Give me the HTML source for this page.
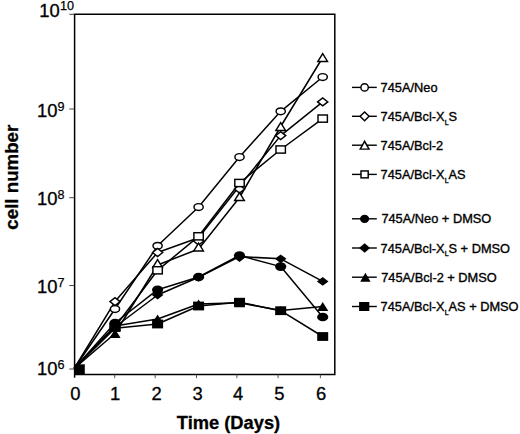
<!DOCTYPE html>
<html><head><meta charset="utf-8"><title>cell number vs time</title>
<style>
html,body{margin:0;padding:0;background:#fff;}
body{width:520px;height:434px;overflow:hidden;}
svg{display:block;}
text{font-family:"Liberation Sans",sans-serif;fill:#000;}
.t{font-size:18.4px;stroke:#000;stroke-width:0.3px;}
.s{font-size:12.6px;stroke:#000;stroke-width:0.25px;}
.b{font-size:18.3px;font-weight:bold;stroke:#000;stroke-width:0.3px;}
.l{font-size:12.8px;stroke:#000;stroke-width:0.35px;}
.sub{font-size:7px;stroke-width:0.35px;}
</style></head><body>
<svg width="520" height="434" viewBox="0 0 520 434">
<rect x="0" y="0" width="520" height="434" fill="#fff"/>

<path d="M74.6 13.5 V377.8 M74.6 14.3 H334.8 V374.6 H73.9" fill="none" stroke="#000" stroke-width="1.5"/>
<line x1="114.7" y1="374.6" x2="114.7" y2="378.2" stroke="#444" stroke-width="0.9"/>
<line x1="155.2" y1="374.6" x2="155.2" y2="378.2" stroke="#444" stroke-width="0.9"/>
<line x1="196.5" y1="374.6" x2="196.5" y2="378.2" stroke="#444" stroke-width="0.9"/>
<line x1="236.9" y1="374.6" x2="236.9" y2="378.2" stroke="#444" stroke-width="0.9"/>
<line x1="278.1" y1="374.6" x2="278.1" y2="378.2" stroke="#444" stroke-width="0.9"/>
<line x1="320.4" y1="374.6" x2="320.4" y2="378.2" stroke="#444" stroke-width="0.9"/>
<line x1="69.3" y1="14.3" x2="74" y2="14.3" stroke="#444" stroke-width="1"/>
<line x1="69.3" y1="109.0" x2="74" y2="109.0" stroke="#444" stroke-width="1"/>
<line x1="69.3" y1="197.7" x2="74" y2="197.7" stroke="#444" stroke-width="1"/>
<line x1="69.3" y1="285.5" x2="74" y2="285.5" stroke="#444" stroke-width="1"/>
<line x1="69.3" y1="369.0" x2="74" y2="369.0" stroke="#444" stroke-width="1"/>
<polyline points="74.2,368.5 115.0,309 157.6,245.8 198.6,207 239.5,157 280.7,111.3 322.7,77" fill="none" stroke="#000" stroke-width="1.5" stroke-linejoin="round"/>
<polyline points="74.2,368.5 115.0,301.6 157.6,252.5 198.6,237.8 239.5,186.0 280.7,135.6 322.7,101.9" fill="none" stroke="#000" stroke-width="1.5" stroke-linejoin="round"/>
<polyline points="74.2,368.5 115.0,333.5 157.6,265.0 198.6,249.0 239.5,197.5 280.7,126.5 322.7,57.5" fill="none" stroke="#000" stroke-width="1.5" stroke-linejoin="round"/>
<polyline points="74.2,368.5 115.0,327 157.6,270.3 198.6,236.3 239.5,183 280.7,149.5 322.7,118.6" fill="none" stroke="#000" stroke-width="1.5" stroke-linejoin="round"/>
<polyline points="74.2,368.5 115.0,323 157.6,289.7 198.6,277 239.5,255.5 280.7,266.6 322.7,317" fill="none" stroke="#000" stroke-width="1.5" stroke-linejoin="round"/>
<polyline points="74.2,368.5 115.0,327 157.6,295 198.6,277.3 239.5,256.6 280.7,258.8 322.7,281.4" fill="none" stroke="#000" stroke-width="1.5" stroke-linejoin="round"/>
<polyline points="74.2,368.5 115.0,326.0 157.6,319 198.6,304 239.5,302.8 280.7,310.6 322.7,306.5" fill="none" stroke="#000" stroke-width="1.5" stroke-linejoin="round"/>
<polyline points="74.2,368.5 115.0,328.3 157.6,324 198.6,306 239.5,302.2 280.7,310.7 322.7,336.5" fill="none" stroke="#000" stroke-width="1.5" stroke-linejoin="round"/>
<ellipse cx="115.0" cy="309" rx="4.6" ry="3.4" fill="#fff" stroke="#000" stroke-width="1.45"/>
<ellipse cx="157.6" cy="245.8" rx="4.6" ry="3.4" fill="#fff" stroke="#000" stroke-width="1.45"/>
<ellipse cx="198.6" cy="207" rx="4.6" ry="3.4" fill="#fff" stroke="#000" stroke-width="1.45"/>
<ellipse cx="239.5" cy="157" rx="4.6" ry="3.4" fill="#fff" stroke="#000" stroke-width="1.45"/>
<ellipse cx="280.7" cy="111.3" rx="4.6" ry="3.4" fill="#fff" stroke="#000" stroke-width="1.45"/>
<ellipse cx="322.7" cy="77" rx="4.6" ry="3.4" fill="#fff" stroke="#000" stroke-width="1.45"/>
<polygon points="109.9,301.6 115.0,297.6 120.1,301.6 115.0,305.6" fill="#fff" stroke="#000" stroke-width="1.45" stroke-linejoin="miter"/>
<polygon points="152.5,252.5 157.6,248.5 162.7,252.5 157.6,256.5" fill="#fff" stroke="#000" stroke-width="1.45" stroke-linejoin="miter"/>
<polygon points="193.5,241 198.6,237.0 203.7,241 198.6,245.0" fill="#fff" stroke="#000" stroke-width="1.45" stroke-linejoin="miter"/>
<polygon points="234.4,189 239.5,185.0 244.6,189 239.5,193.0" fill="#fff" stroke="#000" stroke-width="1.45" stroke-linejoin="miter"/>
<polygon points="275.59999999999997,135.6 280.7,131.6 285.8,135.6 280.7,139.6" fill="#fff" stroke="#000" stroke-width="1.45" stroke-linejoin="miter"/>
<polygon points="317.59999999999997,101.9 322.7,97.9 327.8,101.9 322.7,105.9" fill="#fff" stroke="#000" stroke-width="1.45" stroke-linejoin="miter"/>
<polygon points="110.2,329.9 115.0,322.1 119.8,329.9" fill="#fff" stroke="#000" stroke-width="1.45" stroke-linejoin="miter"/>
<polygon points="152.79999999999998,267.4 157.6,259.6 162.4,267.4" fill="#fff" stroke="#000" stroke-width="1.45" stroke-linejoin="miter"/>
<polygon points="193.79999999999998,250.9 198.6,243.1 203.4,250.9" fill="#fff" stroke="#000" stroke-width="1.45" stroke-linejoin="miter"/>
<polygon points="234.7,200.4 239.5,192.6 244.3,200.4" fill="#fff" stroke="#000" stroke-width="1.45" stroke-linejoin="miter"/>
<polygon points="275.9,130.4 280.7,122.6 285.5,130.4" fill="#fff" stroke="#000" stroke-width="1.45" stroke-linejoin="miter"/>
<polygon points="317.9,61.4 322.7,53.6 327.5,61.4" fill="#fff" stroke="#000" stroke-width="1.45" stroke-linejoin="miter"/>
<rect x="110.3" y="323.4" width="9.4" height="7.2" fill="#fff" stroke="#000" stroke-width="1.45"/>
<rect x="152.9" y="266.7" width="9.4" height="7.2" fill="#fff" stroke="#000" stroke-width="1.45"/>
<rect x="193.9" y="232.70000000000002" width="9.4" height="7.2" fill="#fff" stroke="#000" stroke-width="1.45"/>
<rect x="234.8" y="179.4" width="9.4" height="7.2" fill="#fff" stroke="#000" stroke-width="1.45"/>
<rect x="276.0" y="145.9" width="9.4" height="7.2" fill="#fff" stroke="#000" stroke-width="1.45"/>
<rect x="318.0" y="115.0" width="9.4" height="7.2" fill="#fff" stroke="#000" stroke-width="1.45"/>
<ellipse cx="115.0" cy="323" rx="5.6" ry="4.3" fill="#000"/>
<ellipse cx="157.6" cy="289.7" rx="5.6" ry="4.3" fill="#000"/>
<ellipse cx="198.6" cy="277" rx="5.6" ry="4.3" fill="#000"/>
<ellipse cx="239.5" cy="255.5" rx="5.6" ry="4.3" fill="#000"/>
<ellipse cx="280.7" cy="266.6" rx="5.6" ry="4.3" fill="#000"/>
<ellipse cx="322.7" cy="317" rx="5.6" ry="4.3" fill="#000"/>
<polygon points="109.2,327 115.0,322.6 120.8,327 115.0,331.4" fill="#000"/>
<polygon points="151.79999999999998,295 157.6,290.6 163.4,295 157.6,299.4" fill="#000"/>
<polygon points="192.79999999999998,277.3 198.6,272.90000000000003 204.4,277.3 198.6,281.7" fill="#000"/>
<polygon points="233.7,257.6 239.5,253.20000000000002 245.3,257.6 239.5,262.0" fill="#000"/>
<polygon points="274.9,258.8 280.7,254.4 286.5,258.8 280.7,263.2" fill="#000"/>
<polygon points="316.9,281.4 322.7,277.0 328.5,281.4 322.7,285.79999999999995" fill="#000"/>
<polygon points="109.4,338.0 115.0,329.0 120.6,338.0" fill="#000"/>
<polygon points="152.0,323.5 157.6,314.5 163.2,323.5" fill="#000"/>
<polygon points="193.0,308.5 198.6,299.5 204.2,308.5" fill="#000"/>
<polygon points="233.9,307.3 239.5,298.3 245.1,307.3" fill="#000"/>
<polygon points="275.09999999999997,315.1 280.7,306.1 286.3,315.1" fill="#000"/>
<polygon points="317.09999999999997,311.0 322.7,302.0 328.3,311.0" fill="#000"/>
<rect x="109.5" y="323.1" width="11.0" height="8.8" fill="#000"/>
<rect x="152.1" y="319.6" width="11.0" height="8.8" fill="#000"/>
<rect x="193.1" y="301.6" width="11.0" height="8.8" fill="#000"/>
<rect x="234.0" y="297.8" width="11.0" height="8.8" fill="#000"/>
<rect x="275.2" y="306.3" width="11.0" height="8.8" fill="#000"/>
<rect x="317.2" y="332.1" width="11.0" height="8.8" fill="#000"/>
<rect x="74.2" y="364.3" width="10.6" height="10" fill="#000"/>
<text class="t" x="39.2" y="16.8">10</text>
<text class="s" x="60.0" y="10.3">10</text>
<text class="t" x="37.0" y="116.7">10</text>
<text class="s" x="57.6" y="110.5">9</text>
<text class="t" x="37.0" y="205.2">10</text>
<text class="s" x="57.6" y="199.0">8</text>
<text class="t" x="37.0" y="293.0">10</text>
<text class="s" x="57.6" y="286.8">7</text>
<text class="t" x="37.0" y="375.4">10</text>
<text class="s" x="57.6" y="369.2">6</text>
<text class="t" x="75.3" y="400.2" text-anchor="middle">0</text>
<text class="t" x="115" y="400.2" text-anchor="middle">1</text>
<text class="t" x="156.5" y="400.2" text-anchor="middle">2</text>
<text class="t" x="197.5" y="400.2" text-anchor="middle">3</text>
<text class="t" x="238" y="400.2" text-anchor="middle">4</text>
<text class="t" x="279.3" y="400.2" text-anchor="middle">5</text>
<text class="t" x="321" y="400.2" text-anchor="middle">6</text>
<text class="b" x="228.5" y="429.2" text-anchor="middle">Time (Days)</text>
<text class="b" style="font-size:18.7px" transform="translate(17.7,177.2) rotate(-90)" text-anchor="middle">cell number</text>
<line x1="352.0" y1="87.4" x2="376.8" y2="87.4" stroke="#000" stroke-width="1.4"/>
<ellipse cx="364.6" cy="87.4" rx="3.7" ry="3.6" fill="#fff" stroke="#000" stroke-width="1.45"/>
<text class="l" x="380.6" y="92.0" xml:space="preserve">745A/Neo</text>
<line x1="352.0" y1="116.3" x2="376.8" y2="116.3" stroke="#000" stroke-width="1.4"/>
<polygon points="360.1,116.3 364.6,111.89999999999999 369.1,116.3 364.6,120.7" fill="#fff" stroke="#000" stroke-width="1.45" stroke-linejoin="miter"/>
<text class="l" x="380.6" y="120.89999999999999" xml:space="preserve">745A/Bcl-X<tspan class="sub" dy="3.6">L</tspan><tspan dy="-3.6">S</tspan></text>
<line x1="352.0" y1="145.2" x2="376.8" y2="145.2" stroke="#000" stroke-width="1.4"/>
<polygon points="360.20000000000005,149.1 364.6,141.29999999999998 369.0,149.1" fill="#fff" stroke="#000" stroke-width="1.45" stroke-linejoin="miter"/>
<text class="l" x="380.6" y="149.79999999999998" xml:space="preserve">745A/Bcl-2</text>
<line x1="352.0" y1="174.4" x2="376.8" y2="174.4" stroke="#000" stroke-width="1.4"/>
<rect x="361.0" y="170.95000000000002" width="7.2" height="6.9" fill="#fff" stroke="#000" stroke-width="1.45"/>
<text class="l" x="380.6" y="179.0" xml:space="preserve">745A/Bcl-X<tspan class="sub" dy="3.6">L</tspan><tspan dy="-3.6">AS</tspan></text>
<line x1="352.0" y1="218.8" x2="376.8" y2="218.8" stroke="#000" stroke-width="1.4"/>
<ellipse cx="364.6" cy="218.8" rx="4.6" ry="4.1" fill="#000"/>
<text class="l" x="381.4" y="223.4" xml:space="preserve">745A/Neo + DMSO</text>
<line x1="352.0" y1="248.0" x2="376.8" y2="248.0" stroke="#000" stroke-width="1.4"/>
<polygon points="359.0,248.0 364.6,243.3 370.20000000000005,248.0 364.6,252.7" fill="#000"/>
<text class="l" x="380.6" y="252.6" xml:space="preserve">745A/Bcl-X<tspan class="sub" dy="3.6">L</tspan><tspan dy="-3.6">S + DMSO</tspan></text>
<line x1="352.0" y1="277.2" x2="376.8" y2="277.2" stroke="#000" stroke-width="1.4"/>
<polygon points="360.2,281.7 365.4,272.7 370.59999999999997,281.7" fill="#000"/>
<text class="l" x="381.2" y="281.8" xml:space="preserve">745A/Bcl-2 + DMSO</text>
<line x1="352.0" y1="306.5" x2="376.8" y2="306.5" stroke="#000" stroke-width="1.4"/>
<rect x="359.09999999999997" y="302.0" width="10.2" height="9.0" fill="#000"/>
<text class="l" x="380.6" y="311.1" xml:space="preserve">745A/Bcl-X<tspan class="sub" dy="3.6">L</tspan><tspan dy="-3.6">AS + DMSO</tspan></text>
</svg></body></html>
